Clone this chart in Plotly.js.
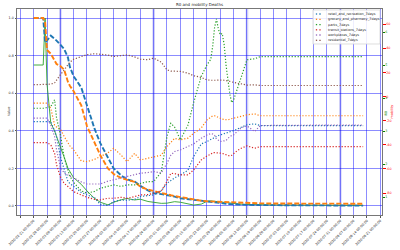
<!DOCTYPE html>
<html><head><meta charset="utf-8">
<script src="https://cdn.plot.ly/plotly-3.0.1.min.js"></script>
<style>html,body{margin:0;padding:0;background:#fff}#chart{width:400px;height:250px}</style>
</head><body><div id="chart"></div>
<script>
const dates = ["2020-02-21","2020-02-26","2020-02-27","2020-02-28","2020-03-01","2020-03-03","2020-03-04","2020-03-06","2020-03-08","2020-03-10","2020-03-11","2020-03-13","2020-03-17","2020-03-20","2020-03-24","2020-03-27","2020-03-31","2020-04-03","2020-04-07","2020-04-10","2020-04-14","2020-04-17","2020-04-21","2020-04-24","2020-04-28","2020-05-01","2020-05-03","2020-05-05","2020-05-08","2020-05-12","2020-05-15","2020-05-19","2020-05-22","2020-05-24","2020-05-25","2020-05-26","2020-05-27","2020-05-28","2020-05-29","2020-05-30","2020-05-31","2020-06-01","2020-06-02","2020-06-03","2020-06-04","2020-06-05","2020-06-07","2020-06-09","2020-06-12","2020-06-16","2020-06-19","2020-06-30","2020-07-20","2020-08-12"];

const solidGreen = [0.75,0.75,1.0,0.65,0.44,0.40,0.37,0.32,0.26,0.20,0.185,0.15,0.115,0.08,0.04,0.02,0.006,0.02,0.033,0.04,0.032,0.036,0.024,0.018,0.014,0.015,0.018,0.023,0.02,0.012,0.005,0.01,0.025,0.027,0.026,0.024,0.022,0.02,0.018,0.017,0.016,0.015,0.014,0.013,0.012,0.011,0.01,0.009,0.008,0.007,0.006,0.005,0.004,0.003];
const dashedBlue = [1.0,1.0,0.87,0.88,0.906,0.89,0.88,0.858,0.835,0.79,0.74,0.69,0.63,0.535,0.41,0.334,0.255,0.2,0.162,0.142,0.13,0.107,0.083,0.068,0.063,0.059,0.055,0.05,0.041,0.036,0.032,0.027,0.022,0.02,0.018,0.016,0.015,0.014,0.013,0.012,0.012,0.011,0.011,0.01,0.01,0.01,0.009,0.008,0.006,0.005,0.005,0.004,0.003,0.002];
const dashedOrange = [1.0,1.0,0.98,0.83,0.81,0.77,0.755,0.745,0.725,0.66,0.64,0.61,0.535,0.425,0.34,0.27,0.2,0.17,0.148,0.139,0.128,0.103,0.087,0.08,0.068,0.06,0.057,0.053,0.047,0.042,0.037,0.028,0.025,0.024,0.024,0.023,0.023,0.022,0.022,0.022,0.021,0.021,0.021,0.02,0.02,0.02,0.018,0.017,0.016,0.015,0.014,0.013,0.012,0.012];

const retail = [0.449,0.449,0.449,0.449,0.449,0.40,0.37,0.263,0.19,0.13,0.12,0.103,0.072,0.059,0.044,0.008,0.002,0.023,0.032,0.03,0.035,0.05,0.055,0.059,0.08,0.121,0.135,0.15,0.165,0.19,0.263,0.33,0.343,0.355,0.36,0.365,0.37,0.375,0.378,0.382,0.385,0.387,0.39,0.395,0.398,0.401,0.41,0.422,0.432,0.437,0.428,0.428,0.428,0.428];
const grocery = [0.547,0.547,0.547,0.547,0.52,0.43,0.42,0.41,0.37,0.34,0.32,0.298,0.24,0.236,0.248,0.263,0.283,0.307,0.27,0.236,0.28,0.245,0.254,0.263,0.27,0.316,0.34,0.36,0.352,0.361,0.387,0.415,0.458,0.47,0.48,0.48,0.475,0.47,0.467,0.462,0.46,0.458,0.458,0.462,0.465,0.467,0.472,0.478,0.485,0.49,0.48,0.48,0.48,0.48];
const parks = [0.52,0.52,0.52,0.525,0.529,0.565,0.47,0.38,0.26,0.19,0.16,0.125,0.08,0.068,0.078,0.094,0.105,0.112,0.104,0.112,0.112,0.121,0.13,0.13,0.18,0.369,0.44,0.42,0.352,0.43,0.55,0.69,0.751,0.78,0.85,0.95,0.995,0.94,0.911,0.918,0.86,0.75,0.66,0.595,0.55,0.565,0.625,0.69,0.778,0.783,0.795,0.795,0.795,0.795];
const transit = [0.337,0.337,0.337,0.337,0.325,0.28,0.22,0.156,0.12,0.1,0.095,0.076,0.058,0.046,0.035,0.032,0.041,0.041,0.046,0.041,0.05,0.059,0.06,0.068,0.08,0.13,0.174,0.172,0.165,0.165,0.192,0.245,0.266,0.275,0.284,0.284,0.284,0.284,0.284,0.28,0.276,0.272,0.27,0.266,0.27,0.28,0.295,0.307,0.32,0.307,0.316,0.316,0.316,0.316];
const workplaces = [0.467,0.467,0.467,0.467,0.43,0.37,0.30,0.209,0.175,0.165,0.16,0.147,0.128,0.117,0.116,0.117,0.132,0.139,0.148,0.156,0.165,0.174,0.178,0.183,0.176,0.227,0.27,0.29,0.298,0.318,0.33,0.36,0.378,0.385,0.383,0.375,0.355,0.35,0.343,0.345,0.348,0.348,0.36,0.37,0.375,0.378,0.4,0.417,0.426,0.396,0.428,0.43,0.43,0.43];
const residential = [0.645,0.645,0.645,0.645,0.648,0.655,0.671,0.698,0.724,0.755,0.765,0.781,0.796,0.805,0.81,0.808,0.803,0.795,0.8,0.804,0.793,0.781,0.778,0.787,0.765,0.724,0.718,0.716,0.716,0.707,0.693,0.684,0.671,0.669,0.668,0.668,0.669,0.67,0.671,0.67,0.669,0.668,0.666,0.663,0.66,0.657,0.653,0.65,0.643,0.645,0.641,0.641,0.641,0.641];

const mobilityNames = ["retail_and_recreation_7days","grocery_and_pharmacy_7days","parks_7days","transit_stations_7days","workplaces_7days","residential_7days"];
const mobilityValues = [retail, grocery, parks, transit, workplaces, residential];
const colors = ["#1f77b4","#ff7f0e","#2ca02c","#d62728","#9467bd","#8c564b"];
const highlightDates = ["2020-03-06","2020-04-24","2020-06-12","2020-07-31"];
const mobilityTicks = [-80,-60,-40,-20,0,20,40,60];
const r0Ticks = [1,2,3,4,5,6];

const FONT = "DejaVu Sans, sans-serif";
const traces = [];
// carrier traces so that the two right-hand axes are drawn (fully transparent)
traces.push({x: dates, y: solidGreen, yaxis:"y2", mode:"lines", line:{color:"rgba(0,0,0,0)", width:0}, hoverinfo:"skip", showlegend:false});
traces.push({x: dates, y: solidGreen, yaxis:"y3", mode:"lines", line:{color:"rgba(0,0,0,0)", width:0}, hoverinfo:"skip", showlegend:false});
traces.push({x: dates, y: solidGreen, mode:"lines", line:{color:"#2ca02c", width:0.9}, showlegend:false});
traces.push({x: dates, y: dashedBlue, mode:"lines", line:{color:"#1f77b4", width:1.9, dash:"5px,2px"}, showlegend:false});
traces.push({x: dates, y: dashedOrange, mode:"lines", line:{color:"#ff7f0e", width:1.9, dash:"5px,2px"}, showlegend:false});
mobilityValues.forEach((v,i)=>{
  traces.push({x: dates, y: v, mode:"lines", name: mobilityNames[i], line:{color:colors[i], width:1.2, dash:"1.2px,1.8px"}, showlegend:false});
});

const L=17, R=18, T=9, B=35, W=400, H=250;
const pw = W-L-R, ph = H-T-B;
const px = x => (x-L)/pw;
const py = y => (H-B-y)/ph;

const shapes = highlightDates.map(d=>({type:"line", xref:"x", yref:"paper", x0:d, x1:d, y0:0, y1:1, line:{color:"#cfcff6", width:2.6}, layer:"between"}));
// legend box
shapes.push({type:"rect", xref:"paper", yref:"paper", x0:px(313), x1:px(380), y0:py(44), y1:py(10), fillcolor:"rgba(255,255,255,0.85)", line:{color:"#d0d0d0", width:0.7}});
const annotations = [];
const legY = [14,19.3,24.6,29.8,35,40.3];
mobilityNames.forEach((n,i)=>{
  [316.5,320].forEach(cx=>{
    shapes.push({type:"rect", xref:"paper", yref:"paper", x0:px(cx-0.65), x1:px(cx+0.65), y0:py(legY[i]+0.65), y1:py(legY[i]-0.65), fillcolor:colors[i], line:{width:0}});
  });
  annotations.push({xref:"paper", yref:"paper", x:px(325.5), y:py(legY[i]), xanchor:"left", yanchor:"middle", text:n, showarrow:false, font:{family:FONT, size:3.4, color:"#222"}});
});
annotations.push({xref:"paper", yref:"paper", x:px(5), y:py(112), text:"Value", textangle:-90, showarrow:false, font:{family:FONT, size:3.4, color:"#222"}});
annotations.push({xref:"paper", yref:"paper", x:px(389.5), y:py(113), text:"R0", textangle:-90, showarrow:false, font:{family:FONT, size:3.4, color:"green"}});
annotations.push({xref:"paper", yref:"paper", x:px(395.5), y:py(112), text:"mobility", textangle:-90, showarrow:false, font:{family:FONT, size:3.4, color:"red"}});

const layout = {
  width:W, height:H, margin:{l:L, r:R, t:T, b:B, pad:0},
  paper_bgcolor:"#fff", plot_bgcolor:"#fff",
  showlegend:false,
  title:{text:"R0 and mobility Deaths", x:0.5, xref:"paper", y:1-5/H, yref:"container", yanchor:"middle", font:{family:FONT, size:4, color:"#222"}},
  xaxis:{type:"date", range:["2020-02-12 06:00","2020-08-21 21:36"], tick0:"2020-02-21", dtick:7*86400000, tickformat:"%Y-%m-%d %H:%M:%S", tickangle:-45, tickfont:{family:FONT, size:3.3, color:"#222"}, showgrid:true, gridcolor:"rgba(0,0,255,0.45)", gridwidth:1, ticks:"outside", ticklen:1.5, tickcolor:"#555", showline:true, linecolor:"#777", linewidth:1, mirror:true, zeroline:false},
  yaxis:{range:[-0.048,1.048], tickvals:[0,0.2,0.4,0.6,0.8,1.0], ticktext:["0.0","0.2","0.4","0.6","0.8","1.0"], tickfont:{family:FONT, size:3.3, color:"#222"}, showgrid:true, gridcolor:"rgba(0,0,255,0.45)", gridwidth:1, ticks:"outside", ticklen:1.5, tickcolor:"#555", showline:true, linecolor:"#777", linewidth:1, mirror:true, zeroline:false},
  yaxis2:{overlaying:"y", side:"right", anchor:"x", range:[0.455,6.70], tickvals:r0Ticks, ticktext:r0Ticks.map(String), tickfont:{family:FONT, size:3.3, color:"green"}, showgrid:false, zeroline:false, ticks:"outside", ticklen:1.5, tickcolor:"green", showline:false},
  yaxis3:{overlaying:"y", side:"right", anchor:"x", range:[-98.2,72.5], tickvals:mobilityTicks, ticktext:mobilityTicks.map(String), tickfont:{family:FONT, size:3.3, color:"red"}, showgrid:false, zeroline:false, ticks:"outside", ticklen:2.5, tickcolor:"red", showline:false},
  shapes: shapes, annotations: annotations
};
Plotly.newPlot("chart", traces, layout, {staticPlot:true, displayModeBar:false});
</script></body></html>
